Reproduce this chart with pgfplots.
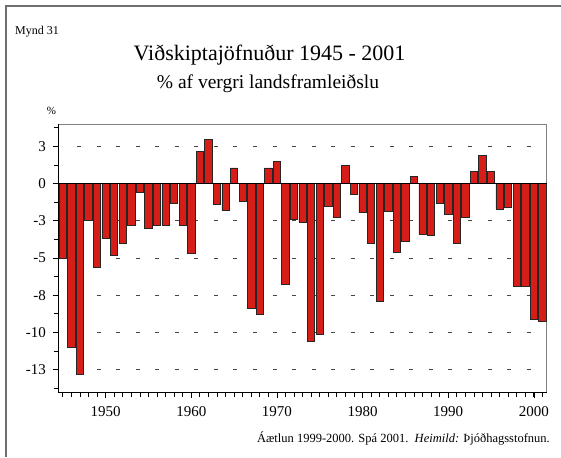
\documentclass[border=0pt]{standalone}
\usepackage{fontspec}
\setmainfont{Liberation Serif}
\usepackage{pgfplots}
\pgfplotsset{compat=1.18}
\definecolor{barred}{RGB}{214,30,24}
\definecolor{framegray}{RGB}{110,110,110}
\definecolor{gridc}{RGB}{70,70,70}

\begin{document}
\begin{tikzpicture}[x=1pt,y=1pt]
\useasboundingbox (0,0) rectangle (561,457);
% frame (only left and top edges visible)
\draw[framegray, line width=1.6pt] (5.8,0) -- (5.8,451.2) -- (561,451.2);
\node[anchor=base west, font=\fontsize{12}{14}\selectfont, inner sep=0] at (15,422) {Mynd 31};
\node[anchor=base, font=\fontsize{22}{26}\selectfont, inner sep=0] at (269.5,396) {Viðskiptajöfnuður 1945 - 2001};
\node[anchor=base, font=\fontsize{19.5}{23}\selectfont, inner sep=0] at (268,368.7) {\% af vergri landsframleiðslu};
\node[anchor=base, font=\fontsize{11}{13}\selectfont, inner sep=0] at (51.5,342) {\%};
\node[anchor=base east, font=\fontsize{12.5}{14}\selectfont, inner sep=0] at (550,14.3)
  {Áætlun 1999-2000. Spá 2001.\ \ \textit{Heimild:} Þjóðhagsstofnun.};

\begin{axis}[
  at={(58.5pt,65pt)}, anchor=south west,
  scale only axis, width=488.2pt, height=268pt,
  xmin=1944.5, xmax=2001.5, ymin=-14, ymax=4,
  axis line style={gray, line width=0.8pt},
  xtick={1950,1960,1970,1980,1990,2000},
  xticklabels={1950,1960,1970,1980,1990,2000},
  minor xtick={1945,...,2001},
  ytick={-12.5,-10,-7.5,-5,-2.5,0,2.5},
  yticklabels={-13,-10,-8,-5,-3,0,3},
  minor ytick={-13.75,-11.25,-8.75,-6.25,-3.75,-1.25,1.25,3.75},
  xtick pos=left, ytick pos=left,
  tick align=outside,
  major tick length=6pt, minor tick length=5pt,
  tick style={black, line width=0.7pt},
  ticklabel style={font=\fontsize{15}{17}\selectfont},
  yticklabel style={xshift=-3pt},
  xticklabel style={yshift=-5pt},
  clip=false,
]
\pgfplotsinvokeforeach{-12.5,-10,-7.5,-5,-2.5,2.5}{
  \draw[gridc, line width=0.9pt, dash pattern=on 4pt off 15.55pt]
    (axis cs:1946.66,#1) -- (axis cs:2001.3,#1);
}
\addplot[ybar, bar width=0.85, bar shift=0pt, fill=barred, draw=black!85, line width=0.7pt]
coordinates {
(1945,-5.0) (1946,-11.0) (1947,-12.8) (1948,-2.5) (1949,-5.6)
(1950,-3.7) (1951,-4.85) (1952,-4.0) (1953,-2.8) (1954,-0.6)
(1955,-3.0) (1956,-2.8) (1957,-2.8) (1958,-1.35) (1959,-2.8)
(1960,-4.7) (1961,2.15) (1962,2.95) (1963,-1.4) (1964,-1.8)
(1965,1.05) (1966,-1.2) (1967,-8.4) (1968,-8.8) (1969,1.05)
(1970,1.5) (1971,-6.8) (1972,-2.4) (1973,-2.6) (1974,-10.6)
(1975,-10.15) (1976,-1.5) (1977,-2.3) (1978,1.2) (1979,-0.7)
(1980,-1.95) (1981,-4.0) (1982,-7.9) (1983,-1.9) (1984,-4.6)
(1985,-3.9) (1986,0.5) (1987,-3.4) (1988,-3.5) (1989,-1.35)
(1990,-2.1) (1991,-4.0) (1992,-2.3) (1993,0.8) (1994,1.9)
(1995,0.8) (1996,-1.7) (1997,-1.6) (1998,-6.9) (1999,-6.9)
(2000,-9.1) (2001,-9.25)
};
\draw[black, line width=0.9pt] (axis cs:1944.5,0) -- (axis cs:2001.5,0);
\draw[black, line width=0.9pt] (rel axis cs:0,1) -- (rel axis cs:0,0) -- (rel axis cs:1,0);
\end{axis}
\end{tikzpicture}
\end{document}
